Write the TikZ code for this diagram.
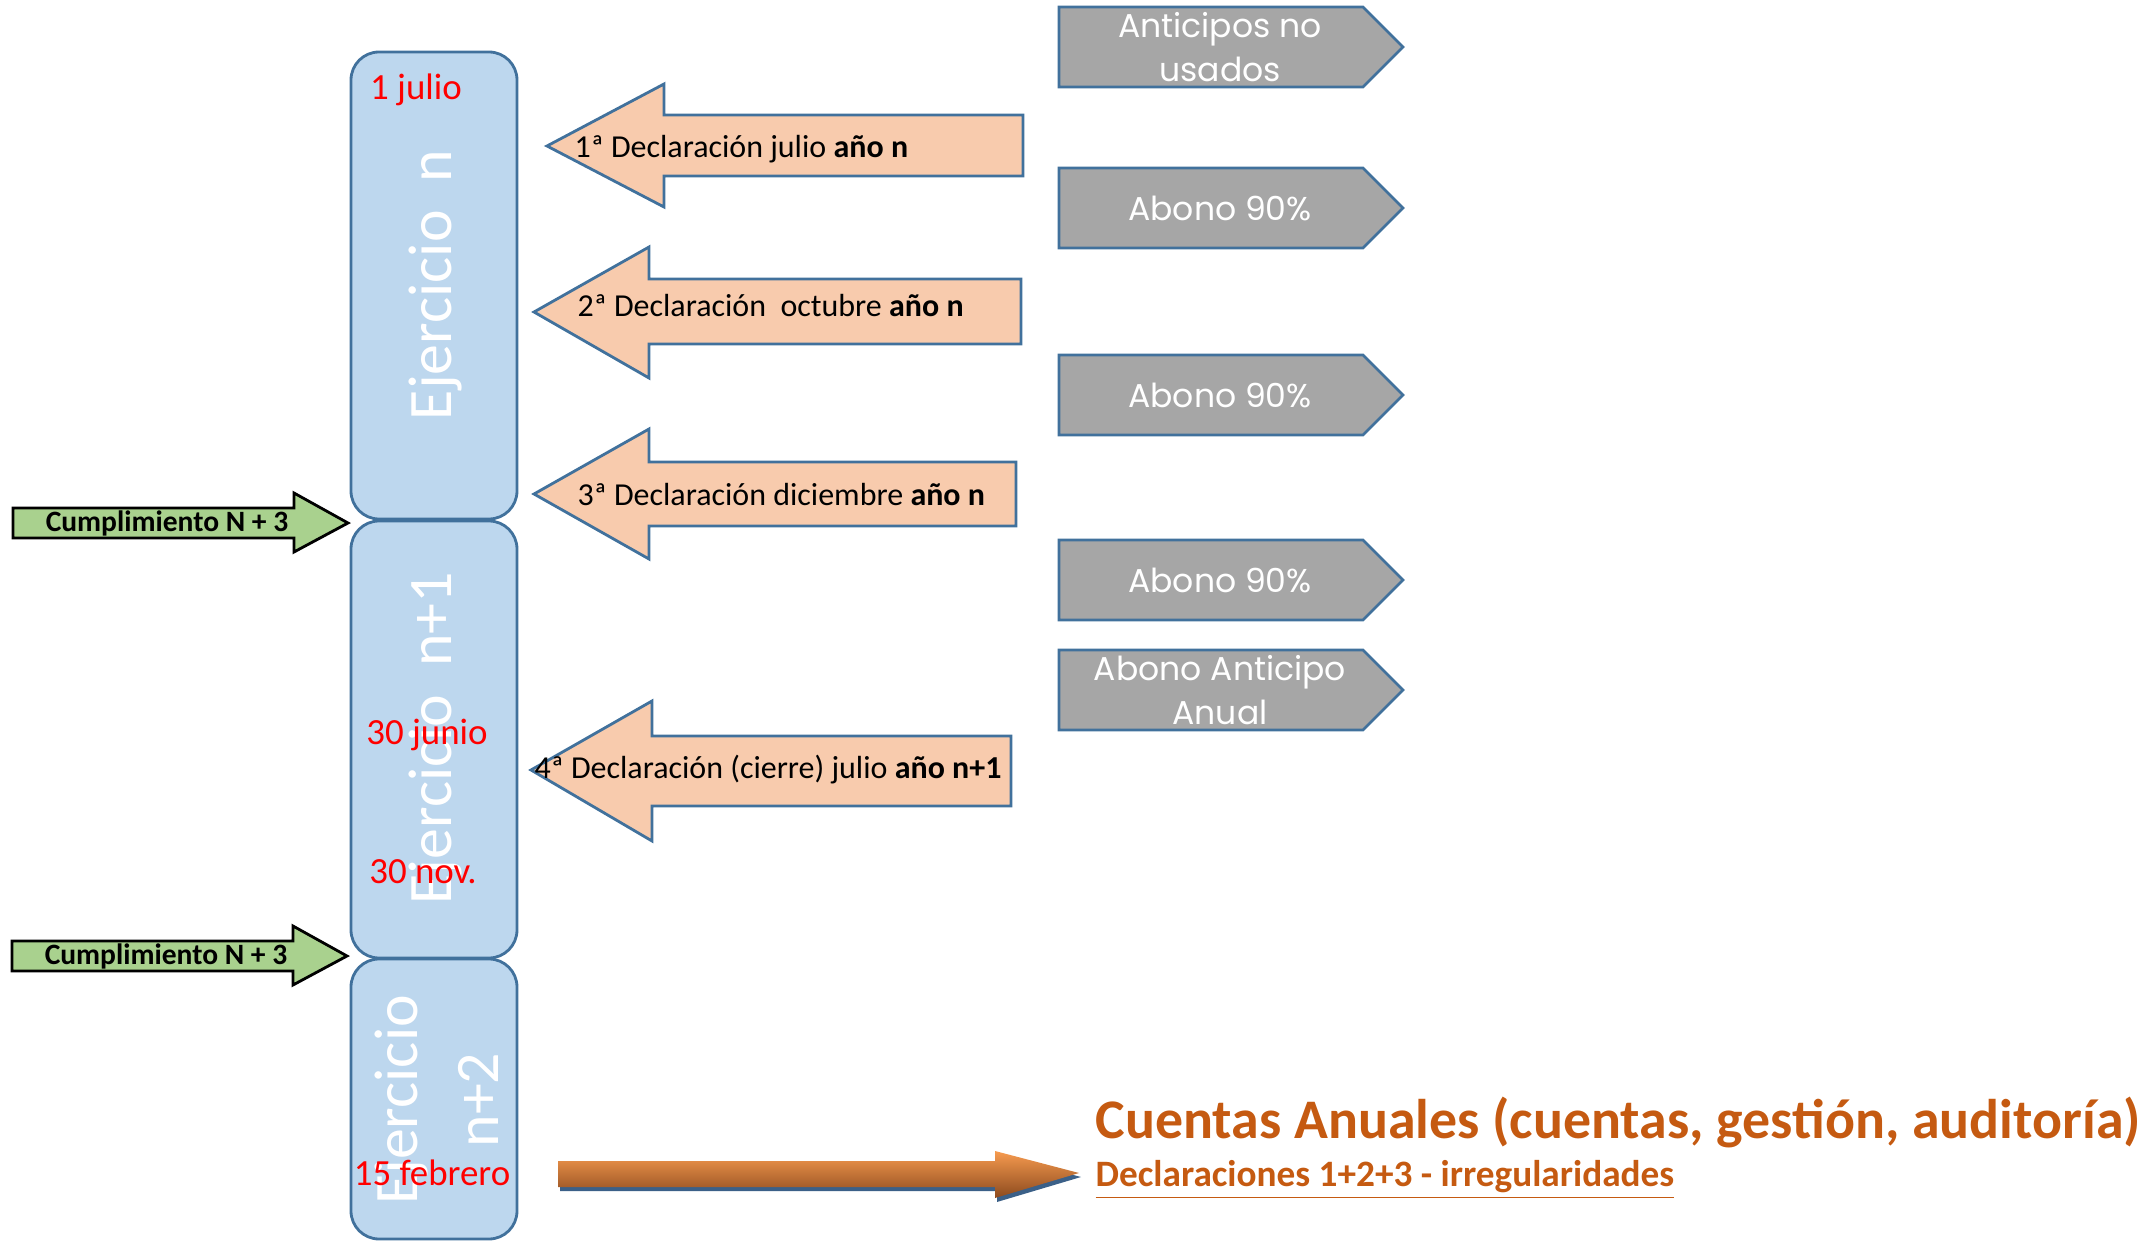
\documentclass[tikz,border=0pt]{standalone}
\usepackage{fontspec}
\setmainfont{Carlito}
\newfontfamily\roundfont{Poppins}
\usepackage{tikz}
\definecolor{boxblue}{HTML}{BDD7EE}
\definecolor{edgeblue}{HTML}{41719C}
\definecolor{peach}{HTML}{F8CBAD}
\definecolor{paygray}{HTML}{A6A6A6}
\definecolor{leafgreen}{HTML}{A9D18E}
\definecolor{rust}{HTML}{C55A11}
\definecolor{shadowblue}{HTML}{3B6088}
\definecolor{arrowtop}{HTML}{F79B4F}
\definecolor{arrowmid}{HTML}{D9742A}
\definecolor{arrowbot}{HTML}{8C4A1E}
\tikzset{
  yearbox/.style = {draw = edgeblue, fill = boxblue, line width = 0.8pt, rounded corners = 2.8mm},
  declarr/.style = {draw = edgeblue, fill = peach, line width = 0.8pt},
  payarr/.style = {draw = edgeblue, fill = paygray, line width = 0.8pt},
  limitarr/.style = {draw = black, fill = leafgreen, line width = 0.8pt},
  yeartext/.style = {text = white, rotate = 90, inner sep = 0, font = \fontsize{17.6}{23}\selectfont},
  datetext/.style = {text = red, inner sep = 0, font = \fontsize{10.5}{12}\selectfont},
  decltext/.style = {anchor = west, inner sep = 0, font = \fontsize{9.1}{11}\selectfont},
  paytext/.style = {text = white, align = center, inner sep = 0, font = \roundfont\fontsize{9.4}{12.4}\selectfont},
  limittext/.style = {inner sep = 0, font = \bfseries\fontsize{8.4}{10}\selectfont},
  resulttext/.style = {anchor = west, text = rust, inner sep = 0}
}

\begin{document}
\begin{tikzpicture}
    \useasboundingbox (0, 0) rectangle (21.49, 12.40);

    \draw [yearbox] (3.51, 7.21) rectangle (5.17, 11.88);
    \draw [yearbox] (3.51, 2.82) rectangle (5.17, 7.19);
    \draw [yearbox] (3.51, 0.01) rectangle (5.17, 2.81);

    \node [yeartext] (ejn) at (4.36, 9.55) {Ejercicio\ \ n};
    \node [yeartext] (ejn1) at (4.36, 5.02) {Ejercicio\ \ n+1};
    \node [yeartext, align = center] (ejn2) at (4.37, 1.40) {Ejercicio\\n+2};

    \node [datetext] (julio) at (4.16, 11.50) {1 julio};
    \node [datetext] (junio) at (4.27, 5.05) {30 junio};
    \node [datetext] (nov) at (4.23, 3.68) {30 nov.};
    \node [datetext] (febrero) at (4.32, 0.67) {15 febrero};

    \draw [limitarr] (0.13, 7.32) -- (2.94, 7.32) -- (2.94, 7.47) -- (3.48, 7.17) -- (2.94, 6.88) -- (2.94, 7.02) -- (0.13, 7.02) -- cycle;
    \draw [limitarr] (0.12, 2.99) -- (2.93, 2.99) -- (2.93, 3.14) -- (3.47, 2.84) -- (2.93, 2.55) -- (2.93, 2.69) -- (0.12, 2.69) -- cycle;
    \node [limittext] (cump1) at (1.67, 7.17) {Cumplimiento N + 3};
    \node [limittext] (cump2) at (1.66, 2.84) {Cumplimiento N + 3};

    \draw [declarr] (5.47, 10.94) -- (6.64, 11.56) -- (6.64, 11.25) -- (10.23, 11.25) -- (10.23, 10.64) -- (6.64, 10.64) -- (6.64, 10.33) -- cycle;
    \draw [declarr] (5.34, 9.28) -- (6.49, 9.93) -- (6.49, 9.61) -- (10.21, 9.61) -- (10.21, 8.96) -- (6.49, 8.96) -- (6.49, 8.62) -- cycle;
    \draw [declarr] (5.34, 7.46) -- (6.49, 8.11) -- (6.49, 7.78) -- (10.16, 7.78) -- (10.16, 7.14) -- (6.49, 7.14) -- (6.49, 6.81) -- cycle;
    \draw [declarr] (5.31, 4.70) -- (6.52, 5.39) -- (6.52, 5.04) -- (10.11, 5.04) -- (10.11, 4.34) -- (6.52, 4.34) -- (6.52, 3.99) -- cycle;
    \node [decltext] (decl1) at (5.74, 10.91) {1ª Declaración julio \textbf{año n}};
    \node [decltext] (decl2) at (5.77, 9.34) {2ª Declaración~ octubre \textbf{año n}};
    \node [decltext] (decl3) at (5.77, 7.45) {3ª Declaración diciembre \textbf{año n}};
    \node [decltext] (decl4) at (5.34, 4.70) {4ª Declaración (cierre) julio \textbf{año n+1}};

    \draw [payarr] (10.59, 12.33) -- (13.63, 12.33) -- (14.03, 11.93) -- (13.63, 11.53) -- (10.59, 11.53) -- cycle;
    \draw [payarr] (10.59, 10.72) -- (13.63, 10.72) -- (14.03, 10.32) -- (13.63, 9.92) -- (10.59, 9.92) -- cycle;
    \draw [payarr] (10.59, 8.85) -- (13.63, 8.85) -- (14.03, 8.45) -- (13.63, 8.05) -- (10.59, 8.05) -- cycle;
    \draw [payarr] (10.59, 7.00) -- (13.63, 7.00) -- (14.03, 6.60) -- (13.63, 6.20) -- (10.59, 6.20) -- cycle;
    \draw [payarr] (10.59, 5.90) -- (13.63, 5.90) -- (14.03, 5.50) -- (13.63, 5.10) -- (10.59, 5.10) -- cycle;
    \node [paytext] (unused) at (12.20, 11.93) {Anticipos no\\usados};
    \node [paytext] (pay1) at (12.20, 10.32) {Abono 90\%};
    \node [paytext] (pay2) at (12.20, 8.45) {Abono 90\%};
    \node [paytext] (pay3) at (12.20, 6.60) {Abono 90\%};
    \node [paytext] (annual) at (12.20, 5.50) {Abono Anticipo\\Anual};

    \fill [shadowblue] (5.60, 0.75) -- (9.97, 0.75) -- (9.97, 0.85) -- (10.81, 0.63) -- (9.97, 0.38) -- (9.97, 0.49) -- (5.60, 0.49) -- cycle;
    \shade [top color = arrowtop, middle color = arrowmid, bottom color = arrowbot] (5.58, 0.79) -- (9.95, 0.79) -- (9.95, 0.89) -- (10.79, 0.67) -- (9.95, 0.42) -- (9.95, 0.53) -- (5.58, 0.53) -- cycle;

    \node [resulttext, font = \bfseries\fontsize{15.9}{19}\selectfont] (cuentas) at (10.95, 1.18) {Cuentas Anuales (cuentas, gestión, auditoría)};
    \node [resulttext, font = \bfseries\fontsize{10.6}{13}\selectfont] (irreg) at (10.95, 0.60) {\underline{Declaraciones 1+2+3 - irregularidades}};
\end{tikzpicture}
\end{document}
